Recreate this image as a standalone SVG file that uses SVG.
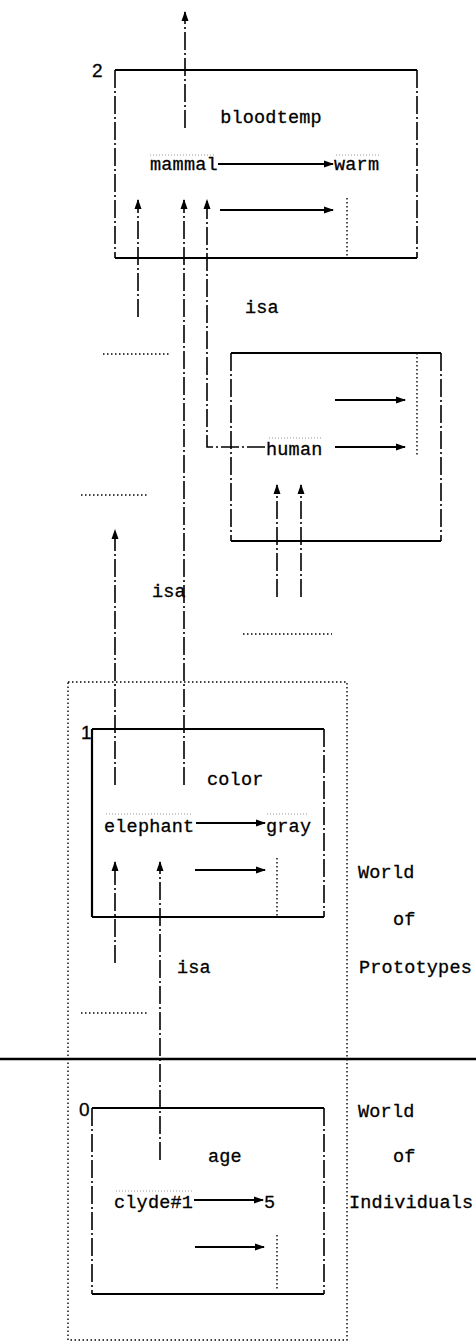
<svg xmlns="http://www.w3.org/2000/svg" width="476" height="1341" viewBox="0 0 476 1341">
<defs>
<marker id="ah" markerWidth="10" markerHeight="8" refX="9" refY="4" orient="auto" markerUnits="userSpaceOnUse">
<path d="M0,0.5 L10,4 L0,7.5 Z" fill="#000"/>
</marker>
<style>
.solid{stroke:#000;stroke-width:2.2;fill:none}
.dd{stroke:#000;stroke-width:1.6;fill:none;stroke-dasharray:18 3 2 3}
.dot{stroke:#000;stroke-width:1.4;fill:none;stroke-dasharray:1.5 2.5}
.arr{stroke:#000;stroke-width:1.8;fill:none;marker-end:url(#ah)}
.darr{stroke:#000;stroke-width:1.6;fill:none;stroke-dasharray:18 3 2 3;marker-end:url(#ah)}
.halo{stroke:#999;stroke-width:1;fill:none;stroke-dasharray:1 2}
text{font-family:"Liberation Mono","DejaVu Sans Mono",monospace;font-size:18.5px;fill:#000;letter-spacing:0.2px;stroke:#000;stroke-width:0.3}
.num{font-family:"Liberation Sans",Arial,sans-serif;font-size:19px}
</style>
</defs>
<rect width="476" height="1341" fill="#fff"/>

<g id="outer-prototypes-individuals">
<rect x="68" y="682" width="279" height="658" class="dot"/>
</g>

<g id="separator">
<line x1="0" y1="1059" x2="476" y2="1059" stroke="#000" stroke-width="2.6"/>
</g>

<g id="labels">
<text x="358" y="878">World</text>
<text x="393" y="925">of</text>
<text x="359" y="973">Prototypes</text>
<text x="358" y="1117">World</text>
<text x="393" y="1162">of</text>
<text x="349" y="1208">Individuals</text>
<text x="245" y="313">isa</text>
<text x="152" y="597">isa</text>
<text x="177" y="973">isa</text>
</g>

<g id="node-bloodtemp">
<text x="92" y="77" class="num">2</text>
<line x1="115" y1="70" x2="417" y2="70" class="solid"/>
<line x1="115" y1="258" x2="417" y2="258" class="solid"/>
<line x1="115" y1="70" x2="115" y2="258" class="dd"/>
<line x1="417" y1="70" x2="417" y2="258" class="dd"/>
<text x="271" y="123" text-anchor="middle">bloodtemp</text>
<line x1="150" y1="155" x2="216" y2="155" class="halo"/>
<text x="150" y="170">mammal</text>
<line x1="218" y1="164" x2="333" y2="164" class="arr"/>
<line x1="336" y1="155" x2="380" y2="155" class="halo"/>
<text x="334" y="170">warm</text>
<line x1="220" y1="210" x2="333" y2="210" class="arr"/>
<line x1="347" y1="198" x2="347" y2="257" class="dot"/>
</g>

<g id="node-human">
<line x1="231" y1="353" x2="441" y2="353" class="solid"/>
<line x1="231" y1="541" x2="441" y2="541" class="solid"/>
<line x1="231" y1="353" x2="231" y2="541" class="dd"/>
<line x1="441" y1="353" x2="441" y2="541" class="dd"/>
<line x1="417" y1="353" x2="417" y2="455" class="dot"/>
<line x1="335" y1="400" x2="405" y2="400" class="arr"/>
<line x1="335" y1="447" x2="405" y2="447" class="arr"/>
<line x1="269" y1="438" x2="322" y2="438" class="halo"/>
<text x="266" y="455">human</text>
</g>

<g id="node-color">
<text x="81" y="739" class="num">1</text>
<line x1="92" y1="729" x2="324" y2="729" class="solid"/>
<line x1="92" y1="917" x2="324" y2="917" class="solid"/>
<line x1="92" y1="729" x2="92" y2="917" class="solid"/>
<line x1="324" y1="729" x2="324" y2="917" class="dd"/>
<text x="207" y="785">color</text>
<line x1="106" y1="814" x2="193" y2="814" class="halo"/>
<text x="104" y="832">elephant</text>
<line x1="196" y1="823" x2="265" y2="823" class="arr"/>
<line x1="267" y1="814" x2="308" y2="814" class="halo"/>
<text x="266" y="832">gray</text>
<line x1="195" y1="870" x2="265" y2="870" class="arr"/>
<line x1="277" y1="858" x2="277" y2="917" class="dot"/>
</g>

<g id="node-age">
<text x="79" y="1116" class="num">0</text>
<line x1="92" y1="1108" x2="324" y2="1108" class="solid"/>
<line x1="92" y1="1294" x2="324" y2="1294" class="solid"/>
<line x1="92" y1="1108" x2="92" y2="1294" class="dd"/>
<line x1="324" y1="1108" x2="324" y2="1294" class="dd"/>
<text x="208" y="1162">age</text>
<line x1="116" y1="1191" x2="192" y2="1191" class="halo"/>
<text x="114" y="1208">clyde#1</text>
<line x1="194" y1="1200" x2="263" y2="1200" class="arr"/>
<text x="264" y="1208">5</text>
<line x1="195" y1="1247" x2="264" y2="1247" class="arr"/>
<line x1="277" y1="1235" x2="277" y2="1290" class="dot"/>
</g>

<g id="connectors">
<line x1="185" y1="128" x2="185" y2="12" class="darr"/>
<line x1="184" y1="785" x2="184" y2="200" class="darr"/>
<line x1="138" y1="317" x2="138" y2="200" class="darr"/>
<polyline points="265,447 207,447 207,200" class="darr"/>
<line x1="115" y1="785" x2="115" y2="530" class="darr"/>
<line x1="115" y1="963" x2="115" y2="862" class="darr"/>
<line x1="160" y1="1160" x2="160" y2="862" class="darr"/>
<line x1="277" y1="597" x2="277" y2="485" class="darr"/>
<line x1="301" y1="597" x2="301" y2="485" class="darr"/>
<line x1="103" y1="354" x2="169" y2="354" class="dot"/>
<line x1="81" y1="495" x2="147" y2="495" class="dot"/>
<line x1="243" y1="634" x2="332" y2="634" class="dot"/>
<line x1="81" y1="1013" x2="147" y2="1013" class="dot"/>
</g>
</svg>
